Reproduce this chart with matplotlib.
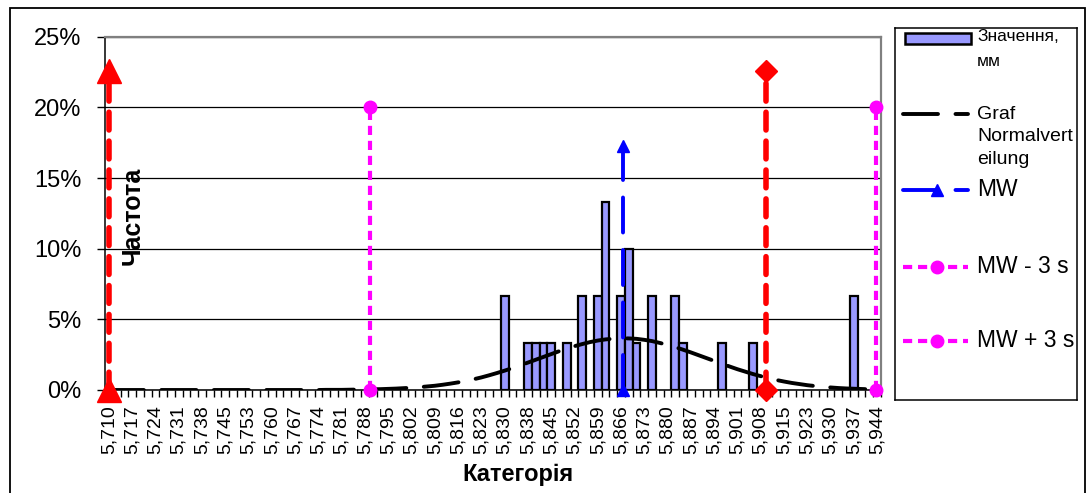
import numpy as np
import matplotlib.pyplot as plt
from matplotlib.patches import Rectangle
from matplotlib.ticker import FuncFormatter

plt.rcParams['font.family'] = ['Liberation Sans', 'DejaVu Sans']

# підписи категорій (кожна третя категорія з 100)
tick_labels = ['5,710', '5,717', '5,724', '5,731', '5,738', '5,745', '5,753',
               '5,760', '5,767', '5,774', '5,781', '5,788', '5,795', '5,802',
               '5,809', '5,816', '5,823', '5,830', '5,838', '5,845', '5,852',
               '5,859', '5,866', '5,873', '5,880', '5,887', '5,894', '5,901',
               '5,908', '5,915', '5,923', '5,930', '5,937', '5,944']
n_cat = 100

# гістограма: номер категорії -> частота, %
bar_idx = [51, 54, 55, 56, 57, 59, 61, 63, 64, 66, 67, 68, 70, 73, 74, 79, 83, 96]
bar_pct = [6.67, 3.33, 3.33, 3.33, 3.33, 3.33, 6.67, 6.67, 13.33, 6.67, 10.0,
           3.33, 6.67, 6.67, 3.33, 3.33, 3.33, 6.67]

# крива нормального розподілу по категоріях, %
normal_pct = [0.00, 0.00, 0.00, 0.00, 0.00, 0.00, 0.00, 0.00, 0.00, 0.00,
              0.00, 0.00, 0.00, 0.00, 0.00, 0.00, 0.00, 0.00, 0.00, 0.00,
              0.00, 0.00, 0.00, 0.00, 0.00, 0.00, 0.00, 0.00, 0.01, 0.01,
              0.01, 0.02, 0.03, 0.03, 0.05, 0.06, 0.08, 0.10, 0.13, 0.16,
              0.20, 0.25, 0.30, 0.37, 0.45, 0.54, 0.65, 0.76, 0.89, 1.04,
              1.20, 1.37, 1.55, 1.74, 1.94, 2.14, 2.34, 2.54, 2.74, 2.92,
              3.10, 3.25, 3.39, 3.50, 3.58, 3.63, 3.66, 3.65, 3.62, 3.55,
              3.46, 3.33, 3.19, 3.03, 2.85, 2.66, 2.46, 2.26, 2.06, 1.86,
              1.66, 1.47, 1.30, 1.13, 0.98, 0.84, 0.71, 0.60, 0.50, 0.42,
              0.34, 0.28, 0.23, 0.18, 0.14, 0.11, 0.09, 0.07, 0.05, 0.04]

# вертикальні лінії: положення (у категоріях) і висота, %
tol_pos = [0.0, 84.7]
tol_top = 22.6
mw_pos = 66.3
mw_top = 17.3
s3_pos = [33.6, 98.9]
s3_top = 20.0

W, H = 1089, 493
fig = plt.figure(figsize=(W / 100, H / 100), dpi=100)

# рамка діаграми
fig.patches.append(Rectangle((10 / W, -0.1), 1075 / W, 1.1 - 8 / H,
                             transform=fig.transFigure, fill=False,
                             edgecolor='black', linewidth=1.3))

ax = fig.add_axes([105 / W, 1 - 390 / H, 776 / W, 353.3 / H])
x = np.arange(n_cat)

ax.bar(bar_idx, bar_pct, width=1.0, color='#9999FF', edgecolor='black',
       linewidth=1.6, zorder=2)
ax.plot(x, normal_pct, color='black', linewidth=2.8, dashes=(9, 4.5),
        dash_capstyle='round', zorder=3)

red_kw = dict(color='red', linewidth=4.0, dashes=(3.2, 2.0),
              dash_capstyle='round', clip_on=False, zorder=4)
ax.plot([tol_pos[0]] * 2, [0, tol_top], marker='^', markersize=17, **red_kw)
ax.plot([tol_pos[1]] * 2, [0, tol_top], marker='D', markersize=11, **red_kw)

ax.plot([mw_pos] * 2, [0, mw_top], color='blue', linewidth=2.8,
        dashes=(9, 4.5), dash_capstyle='round', marker='^', markersize=9,
        clip_on=False, zorder=4)

for p in s3_pos:
    ax.plot([p] * 2, [0, s3_top], color='#FF00FF', linewidth=3.0,
            dashes=(2.2, 1.4), marker='o', markersize=9, clip_on=False,
            zorder=4)

ax.set_xlim(-0.5, n_cat - 0.5)
ax.set_ylim(0, 25)
ax.set_yticks(range(0, 26, 5))
ax.yaxis.set_major_formatter(FuncFormatter(lambda v, _: f'{v:.0f}%'))
ax.tick_params(axis='y', length=6, width=1, pad=11, labelsize=17)
ax.grid(axis='y', color='black', linewidth=0.9, zorder=0)
ax.set_axisbelow(True)

ax.set_xticks(np.arange(0, n_cat, 3))
ax.set_xticklabels(tick_labels, rotation=90, fontsize=14)
ax.set_xticks(np.arange(-0.5, n_cat, 1), minor=True)
ax.tick_params(axis='x', which='major', length=0, pad=11)
ax.tick_params(axis='x', which='minor', length=5, width=1)

for side in ('left', 'bottom'):
    ax.spines[side].set_linewidth(1.1)
for side in ('top', 'right'):
    ax.spines[side].set_color('#808080')
    ax.spines[side].set_linewidth(1.6)

fig.text(518 / W, 1 - 474 / H, 'Категорія', ha='center', va='center',
         fontsize=17, fontweight='bold')
fig.text(133 / W, 1 - 216 / H, 'Частота', ha='center', va='center',
         rotation=90, fontsize=18, fontweight='bold')

# легенда
lax = fig.add_axes([895 / W, 1 - 400 / H, 182 / W, 372 / H])
lax.set_xlim(895, 1077)
lax.set_ylim(400, 28)
lax.set_xticks([])
lax.set_yticks([])
for sp in lax.spines.values():
    sp.set_linewidth(1.1)

lax.add_patch(Rectangle((905, 33), 66, 11, facecolor='#9999FF',
                        edgecolor='black', linewidth=1.8))
lax.text(977, 37, 'Значення,', va='center', fontsize=12.5)
lax.text(977, 62, 'мм', va='center', fontsize=12.5)

lax.plot([903, 968], [114, 114], color='black', linewidth=2.8,
         dashes=(9, 4.5), dash_capstyle='round')
for yy, t in zip([115, 137, 160], ['Graf', 'Normalvert', 'eilung']):
    lax.text(977, yy, t, va='center', fontsize=14)

lax.plot([903, 968], [190, 190], color='blue', linewidth=2.8, dashes=(9, 4.5),
         dash_capstyle='round')
lax.plot([937], [190], marker='^', color='blue', markersize=9)
lax.text(977, 190, 'MW', va='center', fontsize=16.5)

for yy, t in zip([267, 341], ['MW - 3 s', 'MW + 3 s']):
    lax.plot([903, 968], [yy, yy], color='#FF00FF', linewidth=3.0,
             dashes=(2.2, 1.4))
    lax.plot([937], [yy], marker='o', color='#FF00FF', markersize=9)
    lax.text(977, yy, t, va='center', fontsize=16.5)

fig.savefig('out.png', dpi=100)
